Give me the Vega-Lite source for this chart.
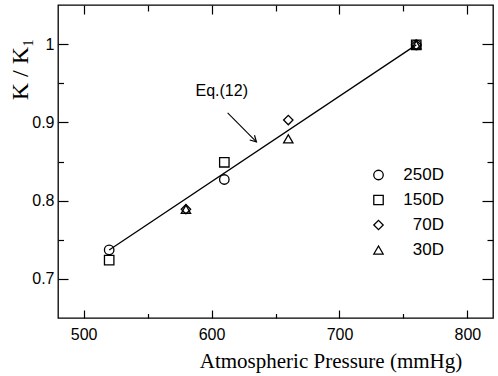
{
  "$schema": "https://vega.github.io/schema/vega-lite/v6.json",
  "width": 435,
  "height": 313,
  "autosize": {"type": "none"},
  "padding": {"left": 58, "top": 5, "right": 5, "bottom": 58},
  "background": "white",
  "config": {
    "view": {"stroke": "black", "strokeWidth": 1.3},
    "axis": {
      "domain": false,
      "grid": false,
      "tickColor": "black",
      "tickWidth": 1.2,
      "labelColor": "black",
      "labelFont": "Liberation Sans",
      "labelFontSize": 16,
      "titleColor": "black",
      "titleFontWeight": "normal"
    }
  },
  "datasets": {
    "measured": [
      {"P": 520, "ratio": 0.737, "series": "250D"},
      {"P": 610, "ratio": 0.827, "series": "250D"},
      {"P": 760, "ratio": 0.999, "series": "250D"},
      {"P": 520, "ratio": 0.724, "series": "150D"},
      {"P": 610, "ratio": 0.849, "series": "150D"},
      {"P": 760, "ratio": 0.999, "series": "150D"},
      {"P": 580, "ratio": 0.789, "series": "70D"},
      {"P": 660, "ratio": 0.903, "series": "70D"},
      {"P": 760, "ratio": 0.999, "series": "70D"},
      {"P": 580, "ratio": 0.789, "series": "30D"},
      {"P": 660, "ratio": 0.879, "series": "30D"},
      {"P": 760, "ratio": 0.999, "series": "30D"}
    ],
    "eq12": [
      {"P": 520, "ratio": 0.737},
      {"P": 760, "ratio": 0.999}
    ],
    "pointer": [
      {"P": 612.6, "ratio": 0.912, "P2": 635.1, "ratio2": 0.875}
    ],
    "note": [
      {"P": 608, "ratio": 0.94, "text": "Eq.(12)"}
    ]
  },
  "resolve": {"axis": {"x": "independent", "y": "independent"}},
  "layer": [
    {
      "data": {"name": "eq12"},
      "mark": {"type": "line", "color": "black", "strokeWidth": 1.3},
      "encoding": {
        "x": {
          "field": "P", "type": "quantitative",
          "scale": {"domain": [480, 820], "nice": false, "zero": false},
          "axis": {
            "orient": "bottom",
            "values": [500, 600, 700, 800],
            "tickSize": -8,
            "labelPadding": 16.5,
            "title": "Atmospheric Pressure (mmHg)",
            "titleFont": "Liberation Serif",
            "titleFontSize": 21,
            "titleX": 272.5,
            "titleY": 43.5,
            "titleAlign": "center",
            "titleBaseline": "middle"
          }
        },
        "y": {
          "field": "ratio", "type": "quantitative",
          "scale": {"domain": [0.65, 1.05], "nice": false, "zero": false},
          "axis": {
            "orient": "left",
            "values": [0.7, 0.8, 0.9, 1],
            "labelExpr": "format(datum.value, '~g')",
            "tickSize": -10,
            "labelPadding": 14,
            "title": "K / K₁",
            "titleFont": "Liberation Serif",
            "titleFontSize": 24,
            "titleAngle": -90,
            "titleX": -38,
            "titleY": 64,
            "titleAlign": "center",
            "titleBaseline": "middle"
          }
        }
      }
    },
    {
      "data": {"name": "measured"},
      "mark": {"type": "point", "filled": false, "color": "black", "strokeWidth": 1.3, "opacity": 1},
      "encoding": {
        "x": {
          "field": "P", "type": "quantitative",
          "axis": {"orient": "bottom", "values": [550, 650, 750], "tickSize": -4.5, "labels": false, "title": null}
        },
        "y": {
          "field": "ratio", "type": "quantitative",
          "axis": {"orient": "left", "values": [0.75, 0.85, 0.95], "tickSize": -5.5, "labels": false, "title": null}
        },
        "shape": {
          "field": "series", "type": "nominal",
          "scale": {"domain": ["250D", "150D", "70D", "30D"], "range": ["circle", "square", "diamond", "triangle-up"]},
          "legend": {
            "title": null,
            "orient": "none",
            "legendX": 312,
            "legendY": 161.5,
            "labelFont": "Liberation Sans",
            "labelFontSize": 17,
            "labelColor": "black",
            "labelAlign": "right",
            "labelOffset": 57,
            "rowPadding": 7,
            "symbolStrokeColor": "black",
            "symbolStrokeWidth": 1.3
          }
        },
        "size": {
          "field": "series", "type": "nominal",
          "scale": {"domain": ["250D", "150D", "70D", "30D"], "range": [90, 87, 150, 100]},
          "legend": {
            "title": null,
            "orient": "none",
            "legendX": 312,
            "legendY": 161.5,
            "labelFont": "Liberation Sans",
            "labelFontSize": 17,
            "labelColor": "black",
            "labelAlign": "right",
            "labelOffset": 57,
            "rowPadding": 7,
            "symbolStrokeColor": "black",
            "symbolStrokeWidth": 1.3
          }
        }
      }
    },
    {
      "data": {"name": "pointer"},
      "mark": {"type": "rule", "color": "black", "strokeWidth": 1.1},
      "encoding": {
        "x": {
          "field": "P", "type": "quantitative",
          "axis": {"orient": "top", "values": [500, 600, 700, 800], "tickSize": -9, "labels": false, "title": null}
        },
        "y": {
          "field": "ratio", "type": "quantitative",
          "axis": {"orient": "right", "values": [0.7, 0.8, 0.9, 1], "tickSize": -11, "labels": false, "title": null}
        },
        "x2": {"field": "P2"},
        "y2": {"field": "ratio2"}
      }
    },
    {
      "data": {"name": "pointer"},
      "mark": {
        "type": "point",
        "shape": "M-0.55,-1L0,0L0.55,-1",
        "size": 150,
        "angle": -45,
        "filled": false,
        "color": "black",
        "strokeWidth": 1.2,
        "opacity": 1
      },
      "encoding": {
        "x": {
          "field": "P2", "type": "quantitative",
          "axis": {"orient": "top", "values": [550, 650, 750], "tickSize": -6, "labels": false, "title": null}
        },
        "y": {
          "field": "ratio2", "type": "quantitative",
          "axis": {"orient": "right", "values": [0.75, 0.85, 0.95], "tickSize": -6, "labels": false, "title": null}
        }
      }
    },
    {
      "data": {"name": "note"},
      "mark": {"type": "text", "font": "Liberation Sans", "fontSize": 16, "color": "black", "align": "center", "baseline": "middle"},
      "encoding": {
        "x": {"field": "P", "type": "quantitative", "axis": null},
        "y": {"field": "ratio", "type": "quantitative", "axis": null},
        "text": {"field": "text"}
      }
    }
  ]
}
